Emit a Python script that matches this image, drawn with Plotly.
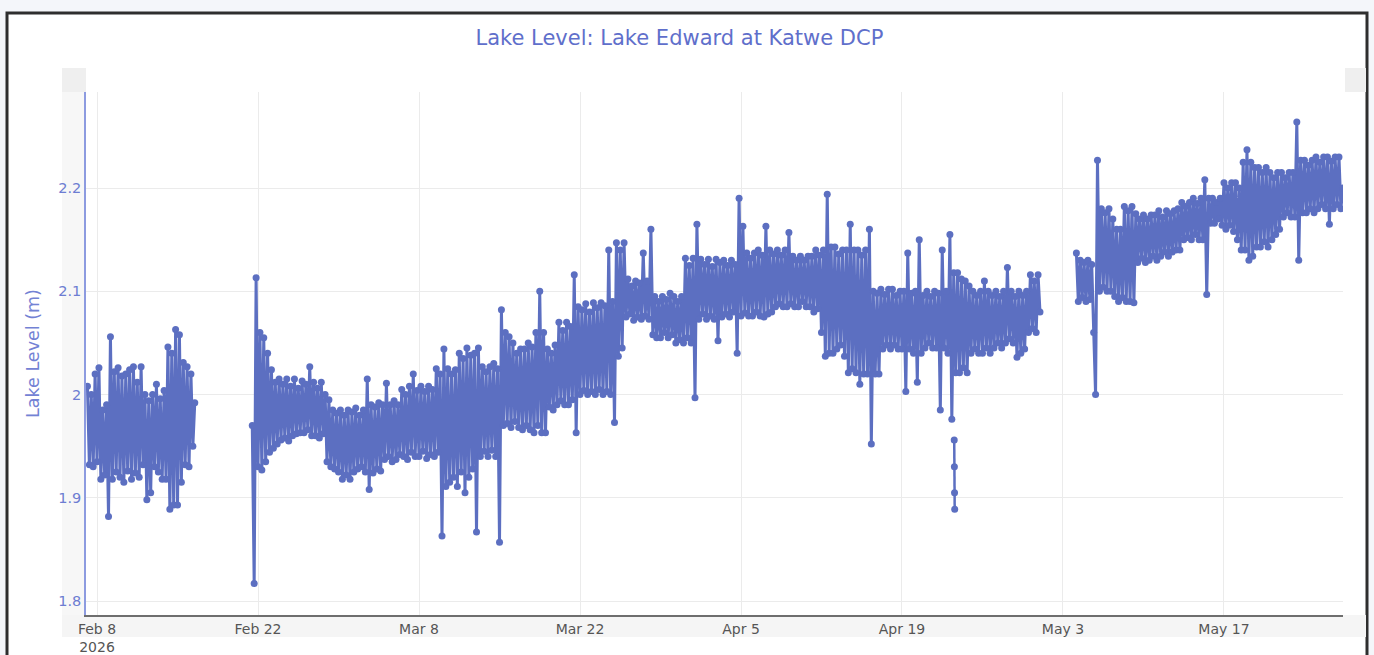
import pandas as pd
import plotly.graph_objects as go

# ---- data, 4-hourly readings, one line per day ----
seg1_start = "2026-02-07 04:00"
seg1_levels = [
    2.008, 1.932, 2.0, 1.93, 2.02,
    1.935, 2.026, 1.918, 1.985, 1.922, 1.99,
    1.882, 2.056, 1.918, 2.022, 1.925, 2.026,
    1.92, 2.018, 1.915, 2.02, 1.926, 2.024,
    1.918, 2.027, 1.924, 2.012, 1.92, 2.027,
    1.932, 2.0, 1.898, 1.994, 1.905, 2.0,
    1.93, 2.01, 1.925, 1.996, 1.918, 2.004,
    1.918, 2.046, 1.889, 2.04, 1.893, 2.063,
    1.893, 2.058, 1.915, 2.031, 1.932, 2.027,
    1.93, 2.02, 1.95, 1.992]

seg2_start = "2026-02-21 12:00"
seg2_levels = [
    1.97, 1.817, 2.113,
    1.93, 2.06, 1.927, 2.055, 1.935, 2.04,
    1.944, 2.024, 1.948, 2.012, 1.952, 2.015,
    1.956, 2.01, 1.958, 2.015, 1.955, 2.008,
    1.96, 2.015, 1.962, 2.006, 1.963, 2.013,
    1.963, 2.01, 1.966, 2.027, 1.96, 2.012,
    1.96, 2.006, 1.958, 2.012, 1.962, 2.0,
    1.935, 1.995, 1.93, 1.985, 1.928, 1.982,
    1.925, 1.985, 1.918, 1.98, 1.922, 1.985,
    1.918, 1.983, 1.925, 1.987, 1.928, 1.98,
    1.93, 1.985, 1.925, 2.015, 1.908, 1.99,
    1.924, 1.988, 1.928, 1.992, 1.926, 1.99,
    1.937, 2.011, 1.94, 1.99, 1.935, 1.994,
    1.937, 1.99, 1.942, 2.005, 1.94, 2.0,
    1.937, 2.008, 1.944, 2.02, 1.94, 2.004,
    1.94, 2.008, 1.945, 2.003, 1.938, 2.008,
    1.942, 2.005, 1.94, 2.025, 1.944, 2.02,
    1.863, 2.044, 1.911, 2.025, 1.915, 2.02,
    1.92, 2.024, 1.911, 2.04, 1.925, 2.035,
    1.905, 2.045, 1.92, 2.038, 1.928, 2.04,
    1.867, 2.045, 1.94, 2.027, 1.945, 2.022,
    1.94, 2.027, 1.946, 2.03, 1.94, 2.025,
    1.857, 2.082, 1.97, 2.06, 1.972, 2.056,
    1.968, 2.05, 1.974, 2.04, 1.968, 2.044,
    1.966, 2.044, 1.97, 2.05, 1.966, 2.046,
    1.963, 2.06, 1.97, 2.10, 1.963, 2.06,
    1.963, 2.044, 1.988, 2.04, 1.985, 2.048,
    1.99, 2.07, 1.994, 2.062, 1.99, 2.07,
    1.99, 2.066, 1.995, 2.116, 1.963, 2.085,
    2.0, 2.082, 2.004, 2.088, 2.0, 2.08,
    2.003, 2.089, 2.0, 2.084, 2.005, 2.089,
    2.0, 2.086, 2.003, 2.14, 2.0, 2.09,
    1.973, 2.147, 2.037, 2.14, 2.045, 2.147,
    2.075, 2.112, 2.078, 2.105, 2.072, 2.11,
    2.075, 2.108, 2.073, 2.137, 2.076, 2.11,
    2.073, 2.16, 2.058, 2.095, 2.055, 2.09,
    2.055, 2.095, 2.06, 2.092, 2.055, 2.098,
    2.058, 2.095, 2.05, 2.09, 2.053, 2.095,
    2.05, 2.132, 2.055, 2.125, 2.05, 2.132,
    1.997, 2.165, 2.073, 2.131, 2.078, 2.126,
    2.073, 2.131, 2.076, 2.124, 2.073, 2.131,
    2.052, 2.128, 2.075, 2.13, 2.078, 2.125,
    2.075, 2.13, 2.08, 2.126, 2.04, 2.19,
    2.076, 2.163, 2.079, 2.137, 2.076, 2.132,
    2.076, 2.137, 2.08, 2.14, 2.076, 2.135,
    2.075, 2.163, 2.078, 2.14, 2.08, 2.136,
    2.085, 2.14, 2.088, 2.135, 2.085, 2.14,
    2.085, 2.157, 2.088, 2.134, 2.085, 2.13,
    2.085, 2.134, 2.09, 2.13, 2.085, 2.134,
    2.085, 2.134, 2.08, 2.14, 2.083, 2.135,
    2.06, 2.14, 2.037, 2.194, 2.04, 2.143,
    2.04, 2.143, 2.044, 2.136, 2.048, 2.14,
    2.037, 2.14, 2.021, 2.165, 2.025, 2.14,
    2.021, 2.14, 2.01, 2.135, 2.02, 2.14,
    2.02, 2.16, 1.952, 2.10, 2.02, 2.098,
    2.02, 2.102, 2.044, 2.097, 2.048, 2.102,
    2.044, 2.102, 2.048, 2.096, 2.044, 2.10,
    2.044, 2.10, 2.003, 2.137, 2.044, 2.098,
    2.04, 2.10, 2.012, 2.15, 2.04, 2.096,
    2.045, 2.10, 2.05, 2.095, 2.045, 2.10,
    2.045, 2.098, 1.985, 2.14, 2.045, 2.10,
    2.04, 2.155, 1.976, 2.118, 2.021, 2.118,
    2.021, 2.112, 2.026, 2.11, 2.021, 2.105,
    2.04, 2.10, 2.044, 2.096, 2.04, 2.10,
    2.04, 2.11, 2.045, 2.1, 2.04, 2.096,
    2.045, 2.10, 2.05, 2.095, 2.045, 2.10,
    2.05, 2.123, 2.054, 2.10, 2.05, 2.095,
    2.036, 2.10, 2.04, 2.096, 2.044, 2.10,
    2.06, 2.116, 2.064, 2.11, 2.06, 2.116,
    2.08]

seg3_start = "2026-05-04 04:00"
seg3_levels = [
    2.137, 2.09, 2.13, 2.094, 2.128,
    2.09, 2.13, 2.092, 2.126, 2.06, 2.0,
    2.227, 2.10, 2.18, 2.104, 2.176, 2.10,
    2.18, 2.10, 2.17, 2.095, 2.16, 2.09,
    2.16, 2.094, 2.182, 2.09, 2.178, 2.09,
    2.182, 2.089, 2.175, 2.128, 2.17, 2.132,
    2.174, 2.128, 2.17, 2.13, 2.174, 2.134,
    2.174, 2.13, 2.178, 2.134, 2.172, 2.138,
    2.178, 2.134, 2.175, 2.138, 2.178, 2.14,
    2.18, 2.14, 2.186, 2.15, 2.182, 2.152,
    2.186, 2.15, 2.19, 2.155, 2.185, 2.15,
    2.19, 2.15, 2.208, 2.097, 2.19, 2.166,
    2.19, 2.166, 2.186, 2.17, 2.19, 2.164,
    2.205, 2.16, 2.2, 2.164, 2.205, 2.158,
    2.205, 2.15, 2.2, 2.14, 2.225, 2.14,
    2.237, 2.13, 2.225, 2.134, 2.22, 2.143,
    2.22, 2.143, 2.215, 2.148, 2.22, 2.143,
    2.215, 2.15, 2.21, 2.155, 2.215, 2.16,
    2.215, 2.172, 2.21, 2.176, 2.215, 2.172,
    2.215, 2.172, 2.264, 2.13, 2.227, 2.176,
    2.227, 2.176, 2.222, 2.18, 2.227, 2.176,
    2.23, 2.18, 2.225, 2.184, 2.23, 2.18,
    2.23, 2.165, 2.226, 2.18, 2.23, 2.184,
    2.23, 2.18, 2.2]

isolated_times = ["2026-04-23 13:00", "2026-04-23 13:20", "2026-04-23 13:40", "2026-04-23 14:00"]
isolated_levels = [1.956, 1.93, 1.905, 1.889]

x_range = ["2026-02-07 01:00", "2026-05-27 08:24"]
y_range = [1.7865, 2.293]

# ---- build series ----
xs, ys = [], []
for start, vals in [(seg1_start, seg1_levels), (seg2_start, seg2_levels), (seg3_start, seg3_levels)]:
    t = pd.date_range(start, periods=len(vals), freq="4h")
    if xs:
        xs.append(t[0] - pd.Timedelta(hours=1))
        ys.append(None)
    xs.extend(t)
    ys.extend(vals)

COL = "#5c6fc1"
FONT = "Verdana, DejaVu Sans, sans-serif"

fig = go.Figure()
fig.add_trace(go.Scatter(x=xs, y=ys, mode="lines+markers",
                         line=dict(color=COL, width=3),
                         marker=dict(color=COL, size=7), showlegend=False))
fig.add_trace(go.Scatter(x=pd.to_datetime(isolated_times), y=isolated_levels, mode="lines+markers",
                         line=dict(color=COL, width=2.5),
                         marker=dict(color=COL, size=7), showlegend=False))

W, H = 1374, 655
L, R, T, B = 86, 31, 92, 40
pw, ph = W - L - R, H - T - B

def px(x):
    return (x - L) / pw

def py(y):
    return (H - B - y) / ph

shapes = [
    dict(type="rect", xref="paper", yref="paper", x0=px(7), x1=px(1367), y0=py(700), y1=py(13),
         fillcolor="white", line=dict(color="#2e2e2e", width=3), layer="below"),
    dict(type="rect", xref="paper", yref="paper", x0=px(62), x1=px(86), y0=py(615), y1=py(92),
         fillcolor="#f7f7f7", line=dict(width=0), layer="below"),
    dict(type="rect", xref="paper", yref="paper", x0=px(62), x1=px(86), y0=py(92), y1=py(68),
         fillcolor="#efefef", line=dict(width=0), layer="below"),
    dict(type="rect", xref="paper", yref="paper", x0=px(1345), x1=px(1366), y0=py(92), y1=py(68),
         fillcolor="#efefef", line=dict(width=0), layer="below"),
    dict(type="rect", xref="paper", yref="paper", x0=px(62), x1=px(1366), y0=py(637), y1=py(615),
         fillcolor="#f5f5f5", line=dict(width=0), layer="below"),
]

fig.update_layout(
    width=W, height=H,
    margin=dict(l=L, r=R, t=T, b=B),
    paper_bgcolor="#f4f6fa",
    plot_bgcolor="white",
    font=dict(family=FONT),
    title=dict(text="Lake Level: Lake Edward at Katwe DCP", xref="container", x=0.4945,
               xanchor="center", yref="container", y=1 - 38 / H, yanchor="middle",
               font=dict(size=21, color="#5f6fcb", family=FONT)),
    shapes=shapes,
    xaxis=dict(type="date", range=x_range, tick0="2026-02-08", dtick=14 * 86400000,
               automargin=False,
               showgrid=True, gridcolor="#ebebeb", gridwidth=1, zeroline=False,
               showline=True, linecolor="#6e6e6e", linewidth=1.5, ticks="",
               tickfont=dict(size=14, color="#555555", family=FONT)),
    yaxis=dict(range=y_range, dtick=0.1, tick0=1.8, automargin=False,
               showgrid=True, gridcolor="#ebebeb", gridwidth=1, zeroline=False,
               showline=True, linecolor="#8d9be0", linewidth=1.5, ticks="",
               tickfont=dict(size=14.5, color="#6d7dd2", family=FONT),
               title=dict(text="Lake Level (m)", standoff=14,
                          font=dict(size=17.5, color="#7382d4", family=FONT))),
)

fig.write_html("out.html", config={"displayModeBar": False},
               post_script="document.body.style.margin='0px';document.body.style.overflow='hidden';")
